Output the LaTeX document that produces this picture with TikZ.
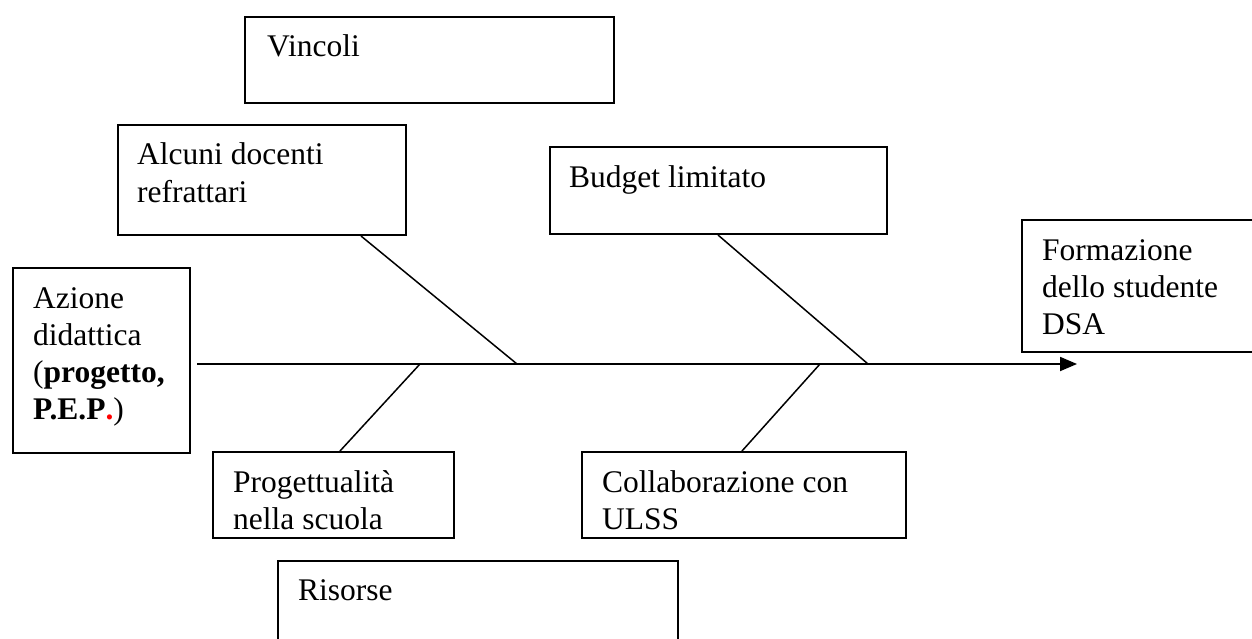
\documentclass[tikz,border=0pt]{standalone}
\usepackage{fontspec}
\setmainfont{Liberation Serif}
\usetikzlibrary{arrows.meta,calc}
\tikzset{
  box/.style={draw, line width=2pt, anchor=north west, inner sep=0pt, rectangle},
  lbl/.style={anchor=base west, inner sep=0pt, font=\fontsize{31.5}{37}\selectfont},
  bone/.style={line width=1.5pt},
  spine/.style={line width=1.8pt, -{Triangle[length=17pt,width=14pt]}}
}
\begin{document}
\begin{tikzpicture}[x=1pt,y=-1pt]
\clip (0,0) rectangle (1252,639);
\fill[white] (0,0) rectangle (1252,639);
% boxes
\node[box, minimum width=369pt, minimum height=86pt] (vinc) at (244,16) {};
\node[box, minimum width=288pt, minimum height=110pt] (alc) at (117,124) {};
\node[box, minimum width=337pt, minimum height=87pt] (bud) at (549,146) {};
\node[box, minimum width=260pt, minimum height=132pt] (form) at (1021,219) {};
\node[box, minimum width=177pt, minimum height=185pt] (az) at (12,267) {};
\node[box, minimum width=241pt, minimum height=86pt] (prog) at (212,451) {};
\node[box, minimum width=324pt, minimum height=86pt] (coll) at (581,451) {};
\node[box, minimum width=400pt, minimum height=110pt] (ris) at (277,560) {};
% labels
\node[lbl] (tvinc) at (267,57) {Vincoli};
\node[lbl] (talc) at (137,165) {\vtop{\hbox{Alcuni docenti}\hbox{refrattari}}};
\node[lbl] (tbud) at (569,187) {Budget limitato};
\node[lbl] (tform) at (1042,260) {\vtop{\hbox{Formazione}\hbox{dello studente}\hbox{DSA}}};
\node[lbl] (taz) at (33,308) {\vtop{\hbox{Azione}\hbox{didattica}\hbox{(\textbf{progetto,}}\hbox{\textbf{P.E.P}\textcolor{red}{\textbf{.}})}}};
\node[lbl] (tprog) at (233,492) {\vtop{\hbox{Progettualità}\hbox{nella scuola}}};
\node[lbl] (tcoll) at (602,492) {\vtop{\hbox{Collaborazione con}\hbox{ULSS}}};
\node[lbl] (tris) at (298,600) {Risorse};
% spine
\coordinate (spineL) at (197,364);
\coordinate (spineR) at (1077,364);
\coordinate (j1) at (517,364);
\coordinate (j2) at (868,364);
\coordinate (j3) at (420,364);
\coordinate (j4) at (820,364);
\draw[spine] (spineL) -- (spineR);
% bones
\draw[bone] ($(alc.south west)+(244,0)$) -- (j1);
\draw[bone] ($(bud.south west)+(169,0)$) -- (j2);
\draw[bone] (j3) -- ($(prog.north west)+(128,0)$);
\draw[bone] (j4) -- ($(coll.north west)+(161,0)$);
\end{tikzpicture}
\end{document}
